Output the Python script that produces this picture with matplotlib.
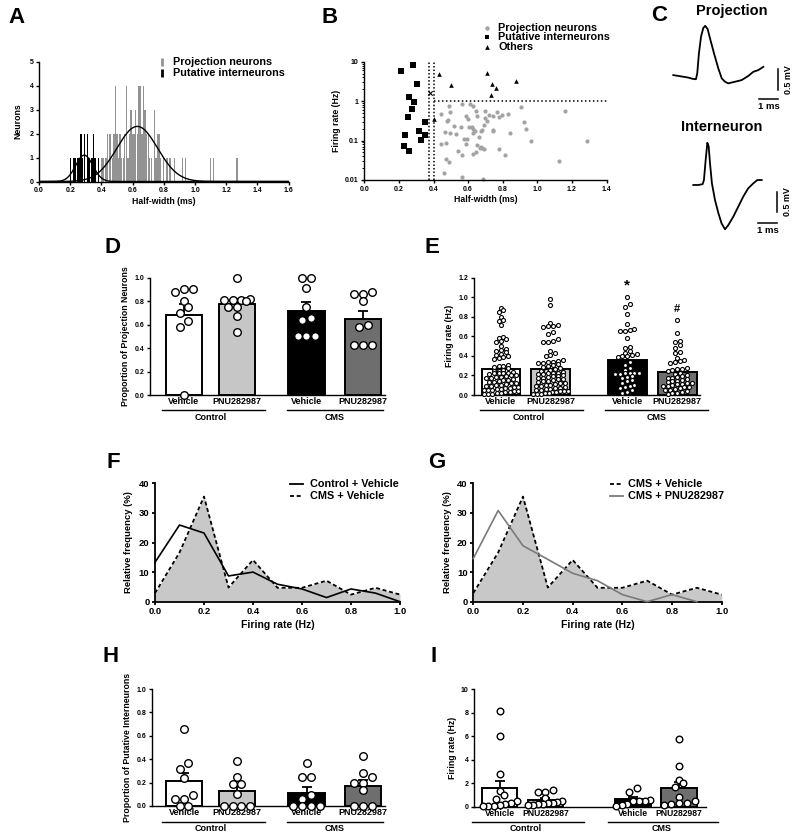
import numpy as np
import matplotlib
matplotlib.use('Agg')
import matplotlib.pyplot as plt
from matplotlib.lines import Line2D
from matplotlib.ticker import NullFormatter, LogLocator

# ---------------- DATA ----------------
# Panel A: half-width histogram (bin centre ms, count)
proj_bins = [0.38, 0.40, 0.41, 0.43,
             0.44, 0.45, 0.46, 0.47, 0.48, 0.49, 0.50, 0.51, 0.52, 0.53, 0.54, 0.55, 0.56, 0.57, 0.58,
             0.59, 0.60, 0.61, 0.62, 0.63, 0.64, 0.65, 0.66, 0.67, 0.68, 0.69, 0.70, 0.71, 0.72,
             0.74, 0.75, 0.76, 0.77, 0.78,
             0.80, 0.82, 0.84, 0.87, 0.92, 0.94,
             1.10, 1.12, 1.27]
proj_counts = [1, 1, 1, 1,
               2, 2, 2, 1, 2, 4, 2, 1, 2, 1, 1, 2, 4, 1, 2,
               3, 2, 2, 3, 2, 4, 4, 2, 4, 3, 2, 2, 1, 1,
               3, 1, 2, 2, 1,
               1, 1, 1, 1, 1, 1,
               1, 1, 1]
int_bins = [0.20, 0.22, 0.23, 0.25, 0.26, 0.27, 0.28, 0.29, 0.31, 0.32, 0.34, 0.35, 0.36, 0.38]
int_counts = [1, 1, 1, 1, 1, 2, 1, 2, 2, 1, 1, 2, 1, 1]
proj_fit = (2.3, 0.63, 0.13)   # amplitude, mean, sd
int_fit = (1.1, 0.29, 0.055)

# Panel B: half-width vs firing rate
proj_hw = [0.49, 0.497, 0.443, 0.563, 0.611, 0.627, 0.644, 0.698, 0.652, 0.59, 0.486, 0.48, 0.52,
           0.558, 0.466, 0.496, 0.53, 0.607, 0.62, 0.63, 0.64, 0.627, 0.68, 0.673, 0.661, 0.707,
           0.744, 0.765, 0.776, 0.798, 0.832, 0.745, 0.745, 0.84, 0.70, 0.906, 0.925, 0.933, 1.16,
           0.965, 1.287, 1.125, 0.443, 0.47, 0.54, 0.563, 0.59, 0.574, 0.596, 0.628, 0.644, 0.653,
           0.67, 0.68, 0.69, 0.675, 0.776, 0.813, 0.47, 0.487, 0.459, 0.563, 0.685, 0.60, 0.69, 0.72]
proj_rate = [0.75, 0.53, 0.47, 0.87, 0.84, 0.75, 0.56, 0.57, 0.41, 0.42, 0.33, 0.31, 0.23,
             0.22, 0.166, 0.155, 0.148, 0.22, 0.225, 0.20, 0.18, 0.16, 0.19, 0.17, 0.12, 0.315,
             0.41, 0.52, 0.40, 0.45, 0.47, 0.19, 0.175, 0.16, 0.37, 0.70, 0.30, 0.20, 0.56,
             0.098, 0.10, 0.031, 0.084, 0.087, 0.053, 0.044, 0.08, 0.112, 0.112, 0.045, 0.05, 0.078,
             0.063, 0.066, 0.062, 0.07, 0.06, 0.043, 0.035, 0.028, 0.0147, 0.0118, 0.0105, 0.36, 0.25, 0.45]
int_hw = [0.21, 0.28, 0.306, 0.257, 0.287, 0.276, 0.253, 0.351, 0.314, 0.349, 0.237, 0.328, 0.23, 0.257]
int_rate = [5.9, 8.1, 2.7, 1.29, 0.96, 0.62, 0.385, 0.30, 0.18, 0.139, 0.135, 0.106, 0.072, 0.054]
oth_hw = [0.434, 0.50, 0.707, 0.74, 0.763, 0.732, 0.879, 0.403]
oth_rate = [4.9, 2.6, 5.2, 2.75, 2.14, 1.42, 3.2, 0.355]
cross_hw = [0.38]
cross_rate = [1.63]
hw_cut = [0.375, 0.40]
rate_cut = 1.0

# Panel C: example waveforms (ms, mV)
proj_t = [0, 0.26, 0.53, 0.79, 1.02, 1.19, 1.26, 1.35, 1.46, 1.58, 1.68, 1.81, 1.93, 2.14, 2.37,
          2.55, 2.72, 2.89, 3.25, 3.6, 3.95, 4.21, 4.47, 4.74]
proj_v = [0.07, 0.05, 0.03, 0.01, -0.02, -0.03, 0.11, 0.6, 1.0, 1.21, 1.26, 1.18, 0.96, 0.6, 0.23,
          -0.01, -0.09, -0.13, -0.09, -0.05, 0.05, 0.15, 0.19, 0.27]
int_t = [0, 0.26, 0.49, 0.56, 0.65, 0.74, 0.81, 0.88, 0.98, 1.14, 1.32, 1.49, 1.67, 1.84, 2.1,
         2.37, 2.63, 2.89, 3.16, 3.37, 3.6]
int_v = [0, 0, 0.02, 0.12, 0.6, 1.02, 0.93, 0.52, 0.04, -0.36, -0.68, -0.93, -1.07, -0.97, -0.77,
         -0.52, -0.28, -0.08, 0.04, 0.12, 0.12]

# Bar panels
categories = ['Vehicle', 'PNU282987', 'Vehicle', 'PNU282987']
groups = ['Control', 'CMS']

# D: proportion of projection neurons
D_means = [0.68, 0.78, 0.72, 0.65]
D_sems = [0.095, 0.04, 0.07, 0.07]
D_points = [[0.90, 0.88, 0.90, 0.80, 0.70, 0.75, 0.63, 0.58, 0.0],
            [1.0, 0.82, 0.81, 0.81, 0.81, 0.80, 0.75, 0.75, 0.67, 0.54],
            [1.0, 1.0, 0.91, 0.75, 0.66, 0.64, 0.5, 0.5, 0.5],
            [0.86, 0.86, 0.875, 0.80, 0.60, 0.58, 0.43, 0.43, 0.43]]

# E: firing rate of projection neurons
E_means = [0.265, 0.27, 0.355, 0.235]
E_sems = [0.022, 0.022, 0.035, 0.022]
E_points = [
    [0.89, 0.87, 0.85, 0.80, 0.77, 0.76, 0.72, 0.59, 0.58, 0.57, 0.55, 0.54, 0.50, 0.47, 0.46, 0.45,
     0.44, 0.42, 0.41, 0.40, 0.39, 0.38, 0.37, 0.31, 0.30, 0.30, 0.29, 0.28,
     0.26, 0.25, 0.25, 0.24, 0.23, 0.22, 0.22, 0.22, 0.21, 0.20, 0.20, 0.19, 0.18, 0.18, 0.17, 0.17,
     0.16, 0.15, 0.15, 0.14, 0.13, 0.13, 0.12, 0.12, 0.11, 0.10, 0.10, 0.09, 0.09, 0.08, 0.08, 0.07,
     0.07, 0.06, 0.06, 0.05, 0.05, 0.05, 0.04, 0.04, 0.03, 0.03, 0.02, 0.02, 0.01, 0.01, 0.01],
    [0.98, 0.92, 0.74, 0.72, 0.71, 0.71, 0.70, 0.64, 0.62, 0.57, 0.55, 0.54, 0.54, 0.45, 0.43, 0.41,
     0.40, 0.36, 0.35, 0.34, 0.34, 0.33, 0.33, 0.32, 0.31, 0.30, 0.29, 0.28,
     0.27, 0.26, 0.25, 0.25, 0.24, 0.23, 0.23, 0.22, 0.21, 0.21, 0.20, 0.19, 0.19, 0.18, 0.17, 0.17,
     0.16, 0.16, 0.15, 0.14, 0.14, 0.13, 0.12, 0.12, 0.11, 0.10, 0.10, 0.09, 0.09, 0.08, 0.07, 0.07,
     0.06, 0.06, 0.05, 0.05, 0.04, 0.04, 0.04, 0.03, 0.03, 0.02, 0.02, 0.01, 0.01, 0.01],
    [1.00, 0.93, 0.90, 0.83, 0.73, 0.68, 0.66, 0.65, 0.65, 0.58, 0.49, 0.48, 0.45, 0.43, 0.42, 0.41,
     0.40, 0.40, 0.39, 0.34, 0.31, 0.28, 0.26, 0.22, 0.22, 0.22, 0.22, 0.21, 0.21, 0.19, 0.18, 0.17,
     0.15, 0.14, 0.12, 0.10, 0.09, 0.08, 0.07, 0.05, 0.03, 0.02],
    [0.77, 0.63, 0.55, 0.54, 0.51, 0.48, 0.44, 0.43, 0.38, 0.36, 0.35, 0.34, 0.33, 0.28, 0.27, 0.27,
     0.26, 0.25, 0.22, 0.21, 0.20, 0.19, 0.18, 0.17, 0.17, 0.16, 0.15, 0.14, 0.14, 0.13, 0.12, 0.12,
     0.11, 0.11, 0.10, 0.09, 0.09, 0.08, 0.08, 0.07, 0.06, 0.05, 0.05, 0.04, 0.03, 0.02, 0.02, 0.01]]
E_marks = ['*', '#']
E_mark_y = [1.125, 0.88]

# F/G: relative frequency distributions
freq_bins = [0.0, 0.1, 0.2, 0.3, 0.4, 0.5, 0.6, 0.7, 0.8, 0.9, 1.0]
ctrl_veh_freq = [13.3, 25.9, 23.2, 8.7, 10.0, 5.9, 4.3, 1.4, 4.3, 2.9, 0.0]
cms_veh_freq = [2.9, 16.6, 35.5, 4.8, 14.1, 4.7, 4.7, 7.1, 2.4, 4.7, 2.4]
cms_pnu_bins = [0.0, 0.1, 0.2, 0.3, 0.4, 0.5, 0.6, 0.7, 0.8, 0.9]
cms_pnu_freq = [14.6, 30.8, 18.9, 14.3, 9.6, 7.1, 2.4, 0.0, 2.4, 0.0]

# H: proportion of putative interneurons
H_means = [0.21, 0.125, 0.115, 0.17]
H_sems = [0.07, 0.045, 0.045, 0.05]
H_points = [[0.66, 0.37, 0.32, 0.24, 0.09, 0.06, 0.06, 0.0, 0.0],
            [0.385, 0.25, 0.19, 0.19, 0.10, 0.0, 0.0, 0.0, 0.0],
            [0.37, 0.25, 0.25, 0.09, 0.06, 0.0, 0.0, 0.0, 0.0],
            [0.43, 0.285, 0.25, 0.20, 0.20, 0.14, 0.0, 0.0, 0.0]]

# I: firing rate of putative interneurons
I_means = [1.55, 0.60, 0.62, 1.60]
I_sems = [0.65, 0.12, 0.18, 0.50]
I_points = [[8.15, 5.98, 2.75, 1.33, 0.99, 0.62, 0.45, 0.30, 0.20, 0.15, 0.10, 0.10, 0.08],
            [1.40, 1.25, 1.22, 0.70, 0.45, 0.40, 0.35, 0.30, 0.25, 0.20, 0.15, 0.12],
            [1.55, 1.28, 0.55, 0.52, 0.50, 0.48, 0.20, 0.15, 0.10],
            [5.75, 3.45, 2.25, 1.98, 1.70, 0.85, 0.50, 0.35, 0.30, 0.20, 0.12]]

bar_colors = ['white', '#c6c6c6', 'black', '#6e6e6e']

# ---------------- STYLE ----------------
plt.rcParams['font.family'] = ['Liberation Sans', 'DejaVu Sans']
plt.rcParams['font.weight'] = 'bold'
plt.rcParams['axes.labelweight'] = 'bold'
plt.rcParams['axes.linewidth'] = 1.0
for a in ['xtick', 'ytick']:
    plt.rcParams[a + '.major.width'] = 1.0
    plt.rcParams[a + '.major.size'] = 2.5
    plt.rcParams[a + '.major.pad'] = 1.5
    plt.rcParams[a + '.direction'] = 'out'

W, H = 800, 835
fig = plt.figure(figsize=(8, 8.35), dpi=100)
fig.patch.set_facecolor('white')

TICK = 5
LAB = 6.3
LEG = 7.8
CAT = 6.5
LET = 16


def add_ax(x0, ytop, x1, ybot):
    return fig.add_axes([x0 / W, 1 - ybot / H, (x1 - x0) / W, (ybot - ytop) / H])


def ftext(x, y, s, **kw):
    fig.text(x / W, 1 - y / H, s, **kw)


def fline(x0, x1, y, **kw):
    fig.add_artist(Line2D([x0 / W, x1 / W], [1 - y / H, 1 - y / H],
                          transform=fig.transFigure, **kw))


def fmarker(x, y, **kw):
    fig.add_artist(Line2D([x / W], [1 - y / H], transform=fig.transFigure,
                          linestyle='none', **kw))


def style(ax, size=TICK):
    for s in ['top', 'right']:
        ax.spines[s].set_visible(False)
    ax.tick_params(labelsize=size)


def row_scatter(ax, xc, vals, d, maxw):
    """GraphPad-like scatter: points grouped into horizontal rows, spread within maxw pixels."""
    tr = ax.transData
    ppu = tr.transform((1, 0))[0] - tr.transform((0, 0))[0]
    ys = np.array([tr.transform((xc, v))[1] for v in vals])
    order = list(np.argsort(ys))
    offs = np.zeros(len(vals))
    rows = []
    cur = [order[0]]
    for i in order[1:]:
        if ys[i] - ys[cur[0]] < d * 0.85:
            cur.append(i)
        else:
            rows.append(cur)
            cur = [i]
    rows.append(cur)
    for r in rows:
        n = len(r)
        if n == 1:
            continue
        s = min(d * 1.1, maxw / (n - 1))
        r_sorted = sorted(r, key=lambda k: ys[k])
        for j, k in enumerate(r_sorted):
            offs[k] = (j - (n - 1) / 2) * s / ppu
    return xc + offs


def bar_panel(ax, pos, means, sems, points, width, xlim, ylim, yticks, ylabel,
              msize_px, lw_pt=1.0, cap=3.5, spread=0.95, cat_size=CAT):
    ax.set_xlim(*xlim)
    ax.set_ylim(*ylim)
    ax.bar(pos, means, width=width, color=bar_colors, edgecolor='black', linewidth=1.4, zorder=1)
    ax.errorbar(pos, means, yerr=[np.zeros(len(means)), sems], fmt='none', ecolor='black',
                elinewidth=1.3, capsize=cap, capthick=1.3, zorder=2)
    ms_pt = msize_px / 1.389
    tr = ax.transData
    ppu = tr.transform((1, 0))[0] - tr.transform((0, 0))[0]
    maxw = width * ppu * spread - msize_px
    for p, vals in zip(pos, points):
        xs = row_scatter(ax, p, vals, msize_px + 0.4, maxw)
        ax.scatter(xs, vals, s=ms_pt ** 2, facecolor='white', edgecolor='black',
                   linewidth=lw_pt, zorder=3, clip_on=False)
    ax.set_yticks(yticks)
    style(ax)
    ax.set_xticks(pos)
    ax.set_xticklabels(categories, fontsize=cat_size)
    ax.tick_params(axis='x', length=0, pad=1.5)
    ax.set_ylabel(ylabel, fontsize=LAB, labelpad=3)


def group_labels(lines, ytxt):
    for (x0, x1, yl, name, xc) in lines:
        fline(x0, x1, yl, color='black', lw=1.0)
        ftext(xc, ytxt, name, fontsize=CAT, ha='center', va='center')


# ---------------- PANEL A ----------------
axA = add_ax(39, 61.7, 288.6, 181.5)
axA.bar(proj_bins, proj_counts, width=0.0085, color='#939393', linewidth=0)
axA.bar(int_bins, int_counts, width=0.0085, color='black', linewidth=0)
xx = np.linspace(0, 1.6, 500)
for amp, mu, sd in [proj_fit, int_fit]:
    axA.plot(xx, amp * np.exp(-(xx - mu) ** 2 / (2 * sd * sd)), color='black', lw=1.0)
axA.set_xlim(0, 1.6)
axA.set_ylim(0, 5)
axA.set_xticks(np.arange(0, 1.61, 0.2))
axA.set_xticklabels(['%.1f' % v for v in np.arange(0, 1.61, 0.2)])
axA.set_yticks(range(6))
style(axA)
axA.set_xlabel('Half-width (ms)', fontsize=LAB, labelpad=2)
axA.set_ylabel('Neurons', fontsize=LAB, labelpad=5)
fmarker(161.7, 61.7, marker='|', markersize=6, markeredgewidth=2, color='#939393')
fmarker(161.7, 72.7, marker='|', markersize=6, markeredgewidth=2, color='black')
ftext(173, 61.7, 'Projection neurons', fontsize=LEG, va='center')
ftext(173, 72.7, 'Putative interneurons', fontsize=LEG, va='center')

# ---------------- PANEL B ----------------
axB = add_ax(364.3, 61.7, 606.5, 180)
axB.set_yscale('log')
axB.set_xlim(0, 1.4)
axB.set_ylim(0.01, 10)
axB.scatter(proj_hw, proj_rate, s=9, color='#a3a3a3', linewidth=0, zorder=2, clip_on=False)
axB.scatter(int_hw, int_rate, s=13, marker='s', color='black', linewidth=0, zorder=3)
axB.scatter(oth_hw, oth_rate, s=11, marker='^', color='black', linewidth=0, zorder=3)
axB.scatter(cross_hw, cross_rate, s=10, marker='x', color='black', linewidth=0.8, zorder=3)
for c in hw_cut:
    axB.plot([c, c], [0.01, 10], color='black', lw=1.1, ls=(0, (1, 1.3)), zorder=1)
axB.plot([hw_cut[1], 1.4], [rate_cut, rate_cut], color='black', lw=1.1, ls=(0, (1, 1.6)), zorder=1)
axB.set_yticks([0.01, 0.1, 1, 10])
axB.set_yticklabels(['0.01', '0.1', '1', '10'])
axB.yaxis.set_minor_locator(LogLocator(base=10, subs=np.arange(2, 10)))
axB.yaxis.set_minor_formatter(NullFormatter())
axB.tick_params(axis='y', which='minor', length=1.5, width=0.7)
axB.set_xticks(np.arange(0, 1.41, 0.2))
axB.set_xticklabels(['%.1f' % v for v in np.arange(0, 1.41, 0.2)])
style(axB)
axB.set_xlabel('Half-width (ms)', fontsize=LAB, labelpad=2)
axB.set_ylabel('Firing rate (Hz)', fontsize=LAB, labelpad=3)
fmarker(486.7, 27.7, marker='o', markersize=3.2, color='#a3a3a3', markeredgewidth=0)
fmarker(486.7, 37.3, marker='s', markersize=3.4, color='black', markeredgewidth=0)
fmarker(486.7, 46.7, marker='^', markersize=3.4, color='black', markeredgewidth=0)
ftext(498, 27.7, 'Projection neurons', fontsize=LEG, va='center')
ftext(498, 37.3, 'Putative interneurons', fontsize=LEG, va='center')
ftext(498, 46.7, 'Others', fontsize=LEG, va='center')

# ---------------- PANEL C ----------------
PX_MS, PX_MV = 19.0, 41.4


def trace_ax(x0, yt, x1, yb, ox, oy):
    ax = add_ax(x0, yt, x1, yb)
    ax.set_xlim((x0 - ox) / PX_MS, (x1 - ox) / PX_MS)
    ax.set_ylim((oy - yb) / PX_MV, (oy - yt) / PX_MV)
    ax.axis('off')
    return ax


axC1 = trace_ax(660, 15, 800, 115, 673.3, 78)
axC1.plot(proj_t, proj_v, color='black', lw=1.3)
axC1.plot([5.53, 5.53], [0.21, -0.29], color='black', lw=1.1)
axC1.plot([4.53, 5.53], [-0.507, -0.507], color='black', lw=1.1)
axC1.text(5.03, -0.70, '1 ms', fontsize=6.8, ha='center', va='center')
axC1.text(6.04, -0.04, '0.5 mV', fontsize=6.4, ha='center', va='center', rotation=90)

axC2 = trace_ax(660, 118, 800, 240, 693.3, 185)
axC2.plot(int_t, int_v, color='black', lw=1.3)
axC2.plot([4.42, 4.42], [-0.16, -0.66], color='black', lw=1.1)
axC2.plot([3.42, 4.42], [-0.91, -0.91], color='black', lw=1.1)
axC2.text(3.92, -1.09, '1 ms', fontsize=6.8, ha='center', va='center')
axC2.text(4.98, -0.41, '0.5 mV', fontsize=6.4, ha='center', va='center', rotation=90)
ftext(731.7, 14.5, 'Projection', fontsize=10.5, ha='center', va='baseline')
ftext(721.7, 131, 'Interneuron', fontsize=10.5, ha='center', va='baseline')

# ---------------- PANEL D ----------------
posD = [0, 1, 2.31, 3.38]
axD = add_ax(150, 277.7, 385, 395)
bar_panel(axD, posD, D_means, D_sems, D_points, 0.68, (-0.64, 3.79), (0, 1.0),
          np.arange(0, 1.01, 0.2), 'Proportion of Projection Neurons', 7.6, spread=1.05)
axD.set_yticklabels(['%.1f' % v for v in np.arange(0, 1.01, 0.2)])
group_labels([(162, 265, 410, 'Control', 210.7), (287, 383, 410, 'CMS', 335)], 417.5)

# ---------------- PANEL E ----------------
posE = [0, 1, 2.55, 3.56]
axE = add_ax(474, 277.7, 700, 395)
bar_panel(axE, posE, E_means, E_sems, E_points, 0.78, (-0.545, 4.02), (0, 1.2),
          np.arange(0, 1.21, 0.2), 'Firing rate (Hz)', 4.0, lw_pt=0.8, cap=2.5, spread=1.0)
axE.set_yticklabels(['%.1f' % v for v in np.arange(0, 1.21, 0.2)])
axE.text(posE[2], E_mark_y[0], E_marks[0], fontsize=11, ha='center', va='center')
axE.text(posE[3], E_mark_y[1], E_marks[1], fontsize=8, ha='center', va='center')
group_labels([(480, 583, 410, 'Control', 529), (605, 708, 410, 'CMS', 657)], 417.5)

# ---------------- PANEL F ----------------
def freq_panel(ax):
    ax.fill_between(freq_bins, cms_veh_freq, 0, color='#c8c8c8', linewidth=0, zorder=1)
    ax.set_xlim(0, 1.0)
    ax.set_ylim(0, 40)
    ax.set_xticks(np.arange(0, 1.01, 0.2))
    ax.set_xticklabels(['%.1f' % v for v in np.arange(0, 1.01, 0.2)])
    ax.set_yticks([0, 10, 20, 30, 40])
    for s in ['left', 'bottom']:
        ax.spines[s].set_linewidth(1.3)
    style(ax, size=6.8)
    ax.tick_params(width=1.3)
    ax.set_xlabel('Firing rate (Hz)', fontsize=7.5, labelpad=3)
    ax.set_ylabel('Relative frequency (%)', fontsize=6.8, labelpad=4)


axF = add_ax(155, 483.3, 400, 601.7)
freq_panel(axF)
axF.plot(freq_bins, cms_veh_freq, color='black', lw=1.3, ls=(0, (2.2, 1.5)), zorder=3, clip_on=False)
axF.plot(freq_bins, ctrl_veh_freq, color='black', lw=1.2, zorder=4, clip_on=False)
fline(290, 303, 484.3, color='black', lw=1.3)
fline(290, 303, 495.7, color='black', lw=1.3, ls=(0, (2.2, 1.5)))
ftext(310, 484.3, 'Control + Vehicle', fontsize=LEG, va='center')
ftext(310, 495.7, 'CMS + Vehicle', fontsize=LEG, va='center')

# ---------------- PANEL G ----------------
axG = add_ax(473.3, 483.3, 721.7, 601.7)
freq_panel(axG)
axG.plot(freq_bins, cms_veh_freq, color='black', lw=1.3, ls=(0, (2.2, 1.5)), zorder=3, clip_on=False)
axG.plot(cms_pnu_bins, cms_pnu_freq, color='#7a7a7a', lw=1.2, zorder=4, clip_on=False)
fline(610, 623, 484.3, color='black', lw=1.3, ls=(0, (2.2, 1.5)))
fline(610, 623, 495.7, color='#7a7a7a', lw=1.3)
ftext(628.3, 484.3, 'CMS + Vehicle', fontsize=LEG, va='center')
ftext(628.3, 495.7, 'CMS + PNU282987', fontsize=LEG, va='center')

# ---------------- PANEL H ----------------
axH = add_ax(151.7, 689, 385, 806)
bar_panel(axH, posD, H_means, H_sems, H_points, 0.68, (-0.61, 3.79), (0, 1.0),
          np.arange(0, 1.01, 0.2), 'Proportion of Putative Interneurons', 7.6, spread=1.05)
axH.set_yticklabels(['%.1f' % v for v in np.arange(0, 1.01, 0.2)])
group_labels([(162, 265, 821.7, 'Control', 210.7), (287, 383, 821.7, 'CMS', 335)], 828.5)

# ---------------- PANEL I ----------------
posI = [0, 1, 2.93, 3.94]
axI = add_ax(474, 689, 706, 806.7)
bar_panel(axI, posI, I_means, I_sems, I_points, 0.78, (-0.565, 4.53), (0, 10),
          [0, 2, 4, 6, 8, 10], 'Firing rate (Hz)', 6.6, spread=1.15, cat_size=6.2)
group_labels([(471.7, 584, 821.7, 'Control', 526), (608, 718, 821.7, 'CMS', 661.7)], 828.5)

# ---------------- PANEL LETTERS ----------------
for (x, y, s) in [(8, 23.3, 'A'), (321.7, 23.3, 'B'), (650.7, 21, 'C'), (105, 253.3, 'D'),
                  (425, 253.3, 'E'), (107, 468.3, 'F'), (428, 468.3, 'G'), (103, 661.7, 'H'),
                  (430, 661.7, 'I')]:
    ftext(x, y, s, fontsize=LET, ha='left', va='baseline', fontweight='bold')

fig.savefig('out.png', dpi=100, facecolor='white')
